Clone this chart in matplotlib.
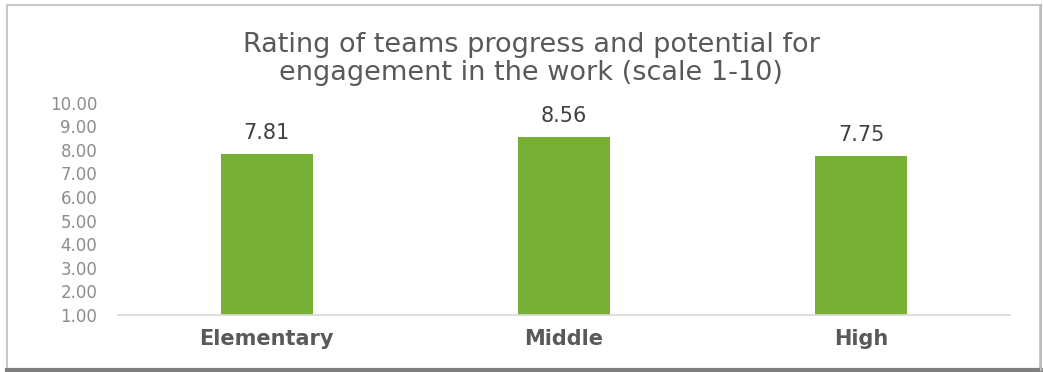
import matplotlib
matplotlib.use("Agg")
import matplotlib.pyplot as plt
from matplotlib.patches import Rectangle
from matplotlib.lines import Line2D

categories = ["Elementary", "Middle", "High"]
values = [7.81, 8.56, 7.75]
yticks = [1, 2, 3, 4, 5, 6, 7, 8, 9, 10]
title = "Rating of teams progress and potential for\nengagement in the work (scale 1-10)"

W, H = 1043, 372
fig = plt.figure(figsize=(W / 100, H / 100), dpi=100)
fig.patch.set_facecolor("white")

def fx(px):
    return px / W
def fy(py):
    return 1 - py / H

# outer frame with shadow
fig.add_artist(Rectangle((fx(7), fy(369)), fx(1040) - fx(7), fy(5) - fy(369),
                         transform=fig.transFigure, facecolor="none",
                         edgecolor="#c8c8c8", linewidth=1.5))
fig.add_artist(Line2D([fx(7), fx(1041)], [fy(370), fy(370)], transform=fig.transFigure,
                      color="#7f7f7f", linewidth=3))
fig.add_artist(Line2D([fx(1041), fx(1041)], [fy(370), fy(5)], transform=fig.transFigure,
                      color="#bdbdbd", linewidth=1.5))

ax = fig.add_axes([fx(118), fy(315), fx(1010) - fx(118), fy(102.7) - fy(315)])
x = list(range(len(categories)))
ax.bar(x, values, width=0.31, bottom=0, color="#77B035", zorder=2)
ax.set_xlim(-0.5, len(categories) - 0.5)
ax.set_ylim(1, 10)
ax.set_yticks(yticks)
ax.set_yticklabels([f"{v:.2f}" for v in yticks], fontfamily="DejaVu Sans",
                   fontsize=12, color="#8c8c8c")
ax.set_xticks(x)
ax.set_xticklabels(categories, fontfamily="DejaVu Sans", fontweight="bold",
                   fontsize=15, color="#595959")
ax.tick_params(axis="both", length=0)
ax.tick_params(axis="y", pad=15)
ax.tick_params(axis="x", pad=10)
for s in ["top", "right", "left"]:
    ax.spines[s].set_visible(False)
ax.spines["bottom"].set_color("#d9d9d9")
ax.spines["bottom"].set_linewidth(1.2)

for xi, v in zip(x, values):
    ax.annotate(f"{v:.2f}", (xi, v), xytext=(0, 8), textcoords="offset points",
                ha="center", va="bottom", fontfamily="DejaVu Sans",
                fontsize=15, color="#404040")

fig.text(fx(531), fy(59), title, ha="center", va="center", fontfamily="DejaVu Sans",
         fontsize=19.5, color="#595959", linespacing=1.1)

fig.savefig("out.png", dpi=100)
